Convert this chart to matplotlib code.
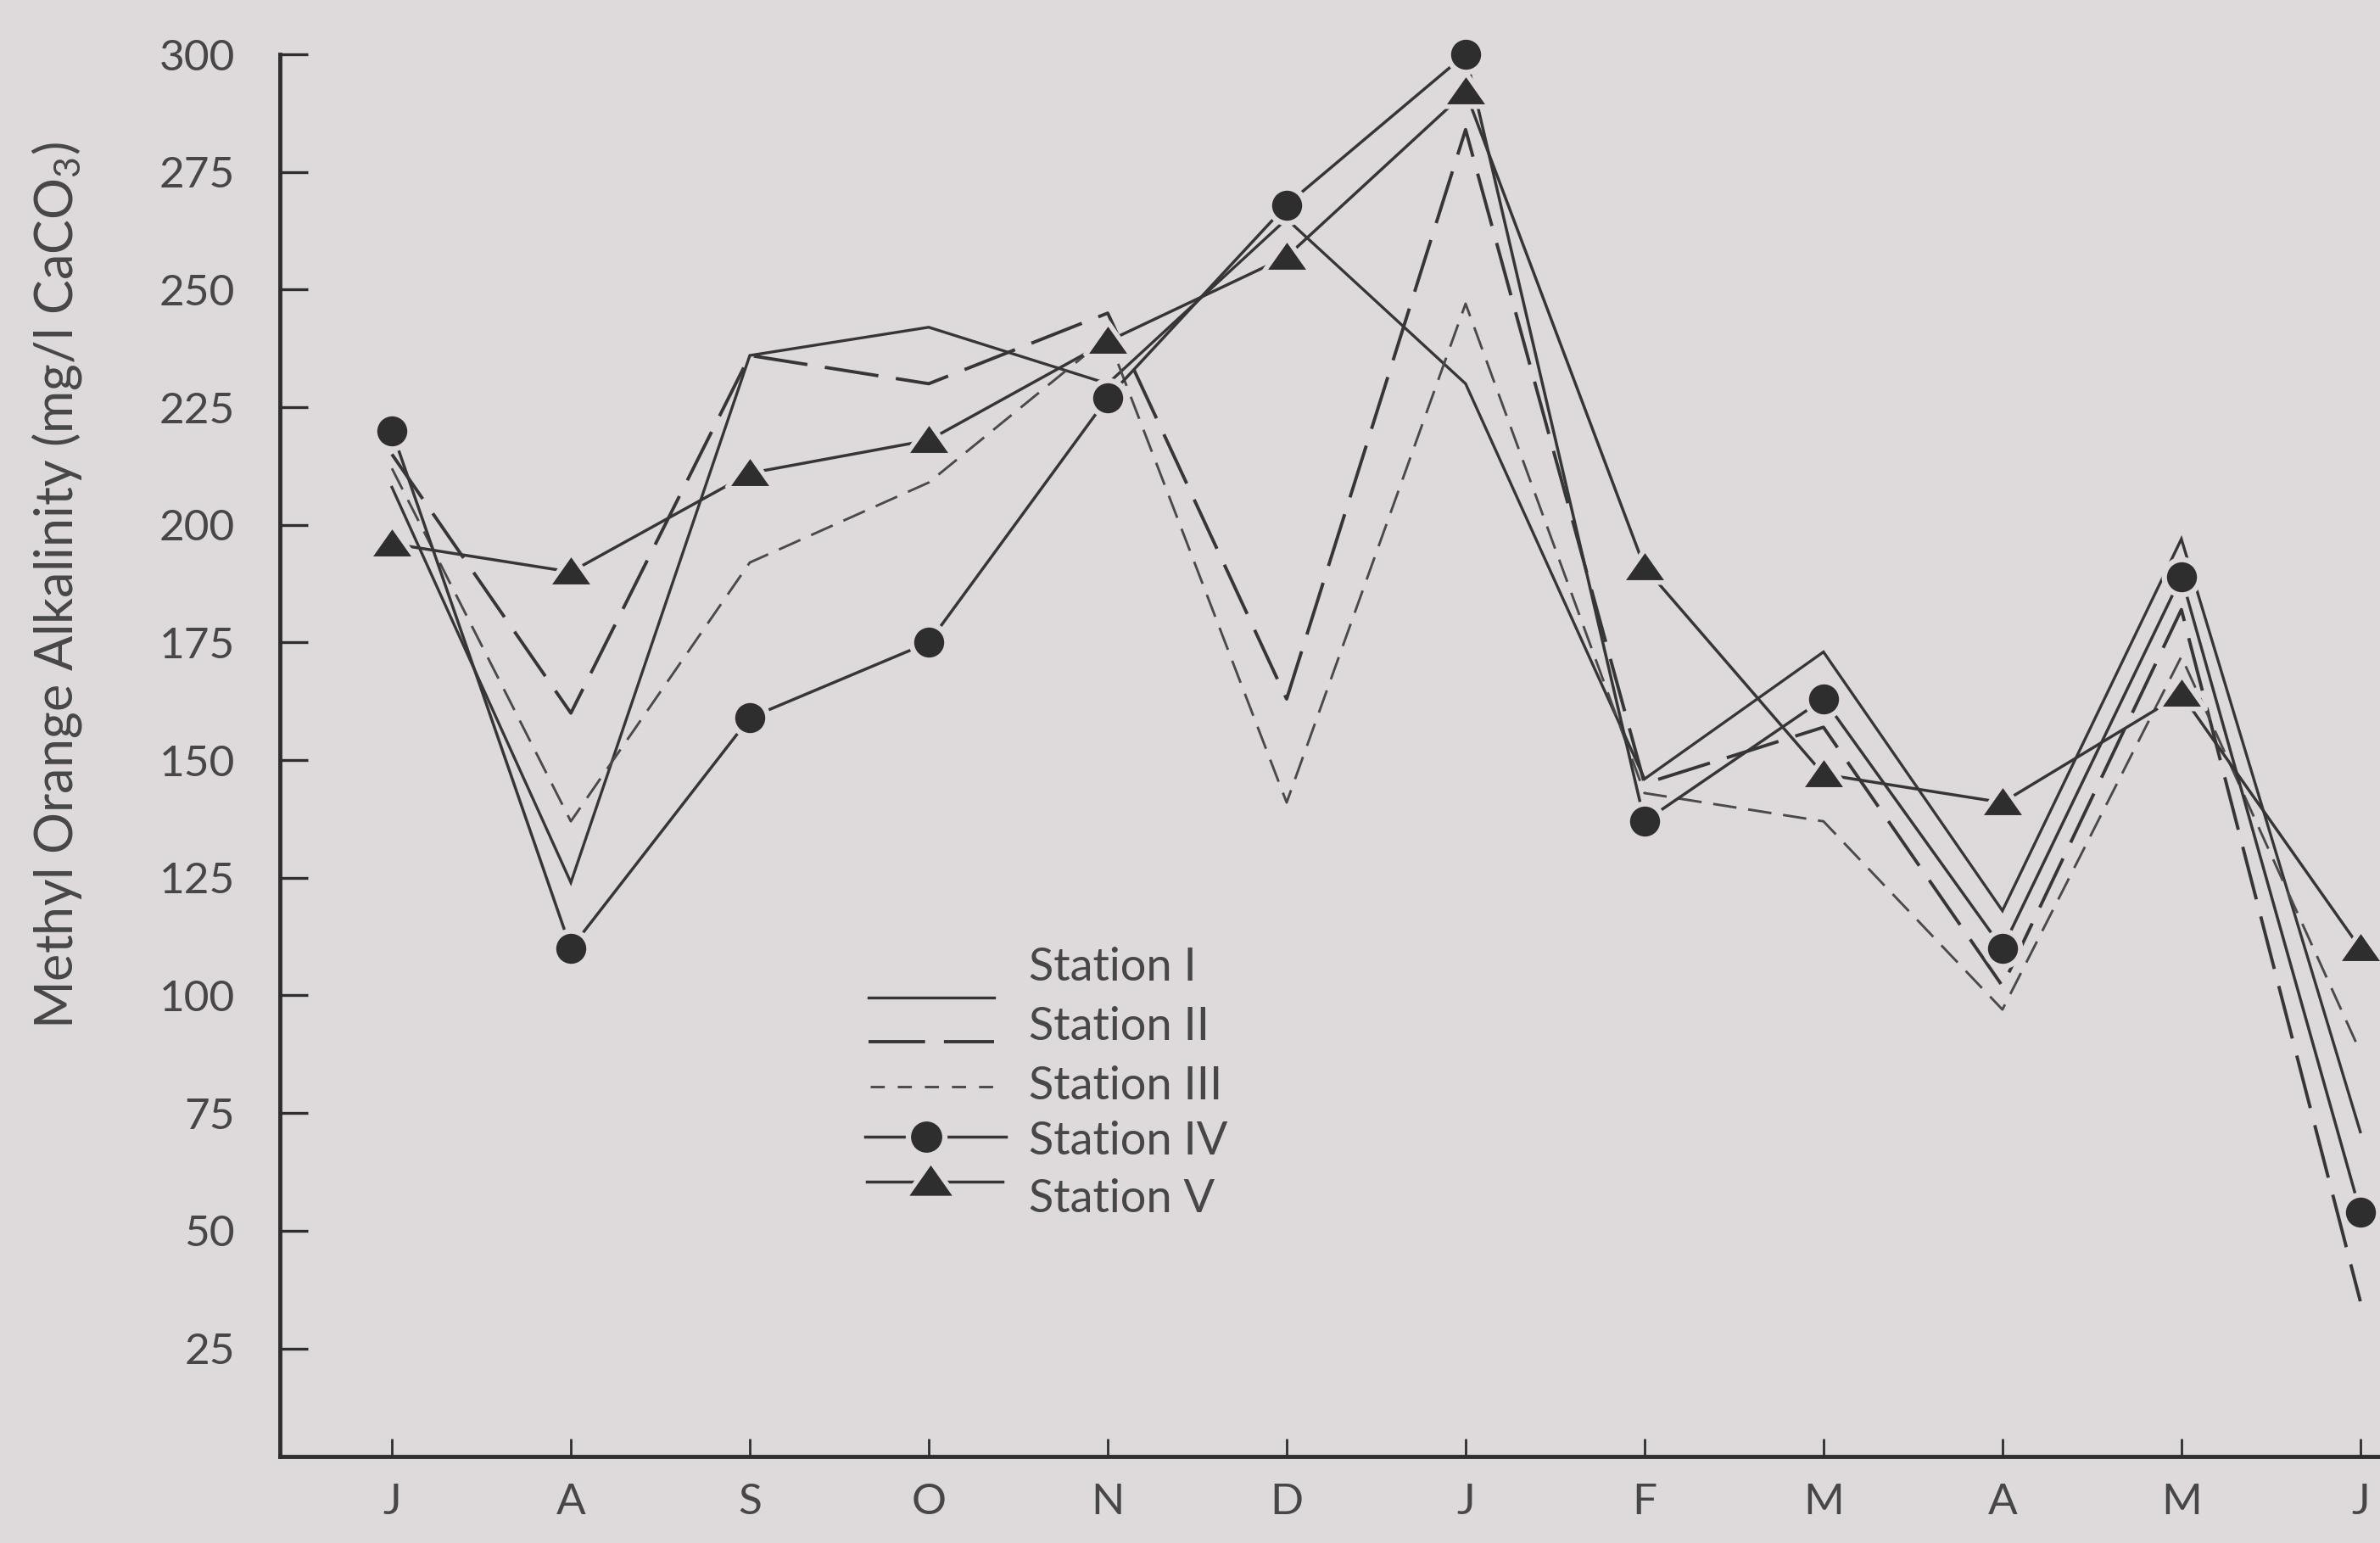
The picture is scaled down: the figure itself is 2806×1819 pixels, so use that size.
import matplotlib.pyplot as plt

plt.rcParams["font.family"] = ["Lato", "DejaVu Sans"]
plt.rcParams["mathtext.default"] = "regular"
plt.rcParams["lines.scale_dashes"] = False

MONTHS = ["J", "A", "S", "O", "N", "D", "J", "F", "M", "A", "M", "J"]
STATION_I = [208, 124, 236, 242, 230, 265, 230, 146, 173, 118, 197, 71]
STATION_II = [215, 160, 236, 230, 245, 163, 284, 145, 157, 102, 182, 35]
STATION_III = [212, 137, 192, 209, 240, 141, 247, 143, 137, 97, 172, 88]
STATION_IV = [220, 110, 159, 175, 227, 268, 300, 137, 163, 110, 189, 54]
STATION_V = [196, 190, 211, 218, 239, 257, 292, 191, 147, 141, 164, 110]
Y_TICKS = [25, 50, 75, 100, 125, 150, 175, 200, 225, 250, 275, 300]

BG = "#dedadc"
INK = "#363636"
TEXT = "#474747"

# triangle a bit wider than tall, as in the scan
TRIANGLE = [(-1, -0.62), (1, -0.62), (0, 0.8), (-1, -0.62)]


def main() -> None:
    fig = plt.figure(figsize=(28.06, 18.19), dpi=100, facecolor=BG)
    ax = fig.add_axes([0.1176, 0.056, 0.8824, 0.9088], facecolor=BG)
    x = list(range(len(MONTHS)))

    ax.plot(x, STATION_I, color=INK, lw=2.4, solid_joinstyle="miter")
    ax.plot(x, STATION_II, color=INK, lw=2.8, linestyle=(0, (46, 15)))
    ax.plot(x, STATION_III, color="#4a4a4a", lw=2.1, linestyle=(0, (20, 10)))
    ax.plot(x, STATION_IV, color=INK, lw=2.5, marker="o", ms=30,
            mfc="#2e2e2e", mec=BG, mew=4.5, clip_on=False)
    ax.plot(x, STATION_V, color=INK, lw=2.5, marker=TRIANGLE, ms=40,
            mfc="#2e2e2e", mec=BG, mew=4, clip_on=False)

    ax.set_xlim(-0.626, 11.11)
    ax.set_ylim(2, 300)
    ax.set_xticks(x)
    ax.set_xticklabels(MONTHS)
    ax.set_yticks(Y_TICKS)

    for side in ("top", "right"):
        ax.spines[side].set_visible(False)
    for side in ("left", "bottom"):
        ax.spines[side].set_linewidth(3.5)
        ax.spines[side].set_color("#2e2e2e")

    ax.tick_params(axis="y", direction="in", length=24, width=2.4,
                   color="#2e2e2e", pad=38, labelsize=37, labelcolor=TEXT)
    ax.tick_params(axis="x", direction="in", length=15, width=2,
                   color="#2e2e2e", pad=22, labelsize=37, labelcolor=TEXT)

    fig.text(0.0239, 0.6207, "Methyl Orange Alkalinity (mg/l CaCO$_3$)",
             rotation=90, ha="center", va="center", fontsize=44, color=TEXT)

    # hand-placed key, laid out like the original drawing
    def ax_x(px):
        return (px - 330) / 2476

    def ax_y(py):
        return (1717 - py) / 1653

    tr = ax.transAxes
    ax.plot([ax_x(1024), ax_x(1172)], [ax_y(1176)] * 2, transform=tr,
            color=INK, lw=2.4)
    ax.plot([ax_x(1024), ax_x(1172)], [ax_y(1228)] * 2, transform=tr,
            color=INK, lw=2.8, linestyle=(0, (48, 16)))
    ax.plot([ax_x(1026), ax_x(1175)], [ax_y(1281)] * 2, transform=tr,
            color="#4a4a4a", lw=2.1, linestyle=(0, (12, 11)))
    ax.plot([ax_x(1020), ax_x(1092), ax_x(1186)], [ax_y(1340)] * 3,
            transform=tr, color=INK, lw=2.5, marker="o", markevery=[1],
            ms=31, mfc="#2e2e2e", mec=BG, mew=4.5)
    ax.plot([ax_x(1022), ax_x(1097), ax_x(1182)], [ax_y(1393)] * 3,
            transform=tr, color=INK, lw=2.5, marker=TRIANGLE, markevery=[1],
            ms=44, mfc="#2e2e2e", mec=BG, mew=4)

    labels = ["Station I", "Station II", "Station III", "Station IV", "Station V"]
    label_y = [1140, 1210, 1280, 1345, 1413]
    for text, py in zip(labels, label_y):
        ax.text(ax_x(1213), ax_y(py), text, transform=tr, ha="left",
                va="center", fontsize=39, color=TEXT)

    fig.savefig("out.png", dpi=100, facecolor=BG)


if __name__ == "__main__":
    main()
